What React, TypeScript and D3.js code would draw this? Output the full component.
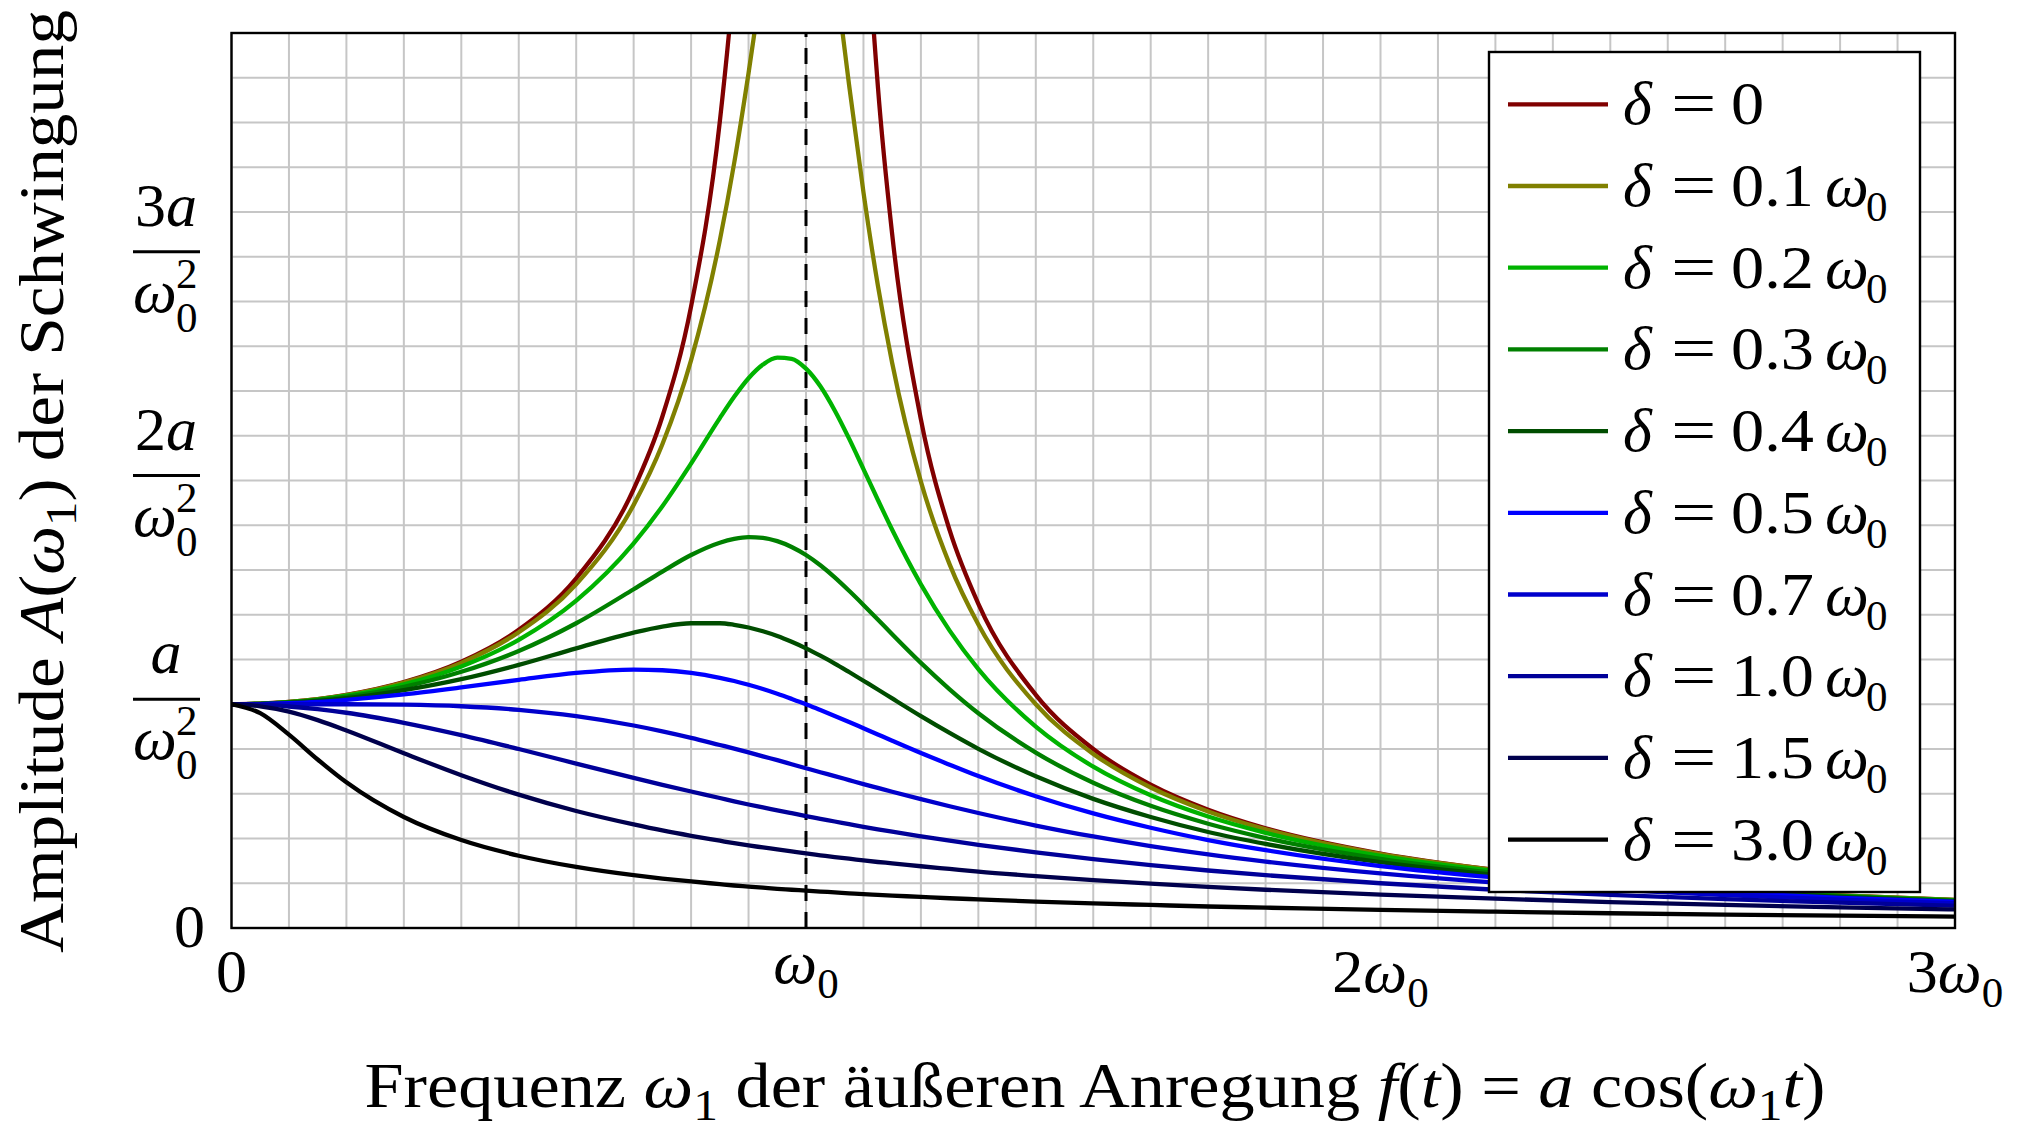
import React from 'react';
import * as d3 from 'd3';

// Frequency ω1 in units of ω0
const omega = [0, 0.05, 0.1, 0.15, 0.2, 0.3, 0.4, 0.5, 0.6, 0.7, 0.75, 0.8, 0.85, 0.875, 0.9, 0.925, 0.95, 0.975, 1.0, 1.025, 1.05, 1.075, 1.1, 1.125, 1.15, 1.2, 1.25, 1.3, 1.4, 1.5, 1.6, 1.7, 1.8, 2.0, 2.2, 2.4, 2.6, 2.8, 3.0];

// Amplitude A(ω1) in units of a/ω0²
const ampD00 = [1, 1.003, 1.010, 1.023, 1.042, 1.099, 1.190, 1.333, 1.563, 1.961, 2.286, 2.778, 3.604, 4.267, 5.263, 6.926, 10.256, 20.253, null, 19.753, 9.756, 6.426, 4.762, 3.765, 3.101, 2.273, 1.778, 1.449, 1.042, 0.800, 0.641, 0.529, 0.446, 0.333, 0.260, 0.210, 0.174, 0.146, 0.125];
const ampD01 = [1, 1.002, 1.010, 1.023, 1.041, 1.097, 1.185, 1.322, 1.536, 1.891, 2.162, 2.538, 3.073, 3.419, 3.821, 4.261, 4.683, 4.971, 5.000, 4.736, 4.279, 3.768, 3.288, 2.873, 2.525, 1.995, 1.625, 1.356, 1.000, 0.778, 0.628, 0.521, 0.441, 0.330, 0.259, 0.209, 0.173, 0.146, 0.125];
const ampD02 = [1, 1.002, 1.009, 1.021, 1.038, 1.089, 1.169, 1.288, 1.463, 1.719, 1.885, 2.076, 2.279, 2.374, 2.457, 2.518, 2.549, 2.544, 2.500, 2.421, 2.313, 2.187, 2.051, 1.914, 1.780, 1.536, 1.329, 1.157, 0.900, 0.721, 0.593, 0.498, 0.425, 0.322, 0.254, 0.206, 0.171, 0.144, 0.124];
const ampD03 = [1, 1.002, 1.008, 1.019, 1.034, 1.078, 1.145, 1.238, 1.362, 1.514, 1.593, 1.667, 1.722, 1.739, 1.747, 1.744, 1.729, 1.703, 1.667, 1.621, 1.567, 1.507, 1.444, 1.379, 1.313, 1.185, 1.067, 0.960, 0.784, 0.649, 0.546, 0.466, 0.402, 0.309, 0.246, 0.201, 0.168, 0.142, 0.122];
const ampD04 = [1, 1.002, 1.007, 1.015, 1.027, 1.063, 1.112, 1.176, 1.250, 1.320, 1.347, 1.362, 1.362, 1.355, 1.343, 1.326, 1.305, 1.279, 1.250, 1.217, 1.182, 1.144, 1.105, 1.066, 1.026, 0.947, 0.872, 0.801, 0.678, 0.577, 0.496, 0.429, 0.376, 0.294, 0.237, 0.195, 0.163, 0.139, 0.120];
const ampD05 = [1, 1.001, 1.005, 1.011, 1.020, 1.044, 1.075, 1.109, 1.140, 1.155, 1.152, 1.140, 1.118, 1.104, 1.087, 1.068, 1.047, 1.024, 1.000, 0.974, 0.948, 0.921, 0.893, 0.865, 0.837, 0.782, 0.730, 0.679, 0.589, 0.512, 0.448, 0.393, 0.348, 0.277, 0.226, 0.188, 0.158, 0.135, 0.117];
const ampD07 = [1, 1.000, 1.000, 1.000, 1.000, 0.998, 0.991, 0.975, 0.947, 0.905, 0.879, 0.850, 0.818, 0.802, 0.785, 0.767, 0.750, 0.732, 0.714, 0.696, 0.679, 0.661, 0.643, 0.626, 0.609, 0.576, 0.544, 0.514, 0.458, 0.409, 0.366, 0.329, 0.297, 0.244, 0.203, 0.172, 0.147, 0.127, 0.111];
const ampD10 = [1, 0.998, 0.990, 0.978, 0.962, 0.917, 0.862, 0.800, 0.735, 0.671, 0.640, 0.610, 0.581, 0.566, 0.552, 0.539, 0.526, 0.513, 0.500, 0.488, 0.476, 0.464, 0.452, 0.441, 0.431, 0.410, 0.390, 0.372, 0.338, 0.308, 0.281, 0.257, 0.236, 0.200, 0.171, 0.148, 0.129, 0.113, 0.100];
const ampD15 = [1, 0.991, 0.967, 0.929, 0.883, 0.781, 0.683, 0.596, 0.523, 0.463, 0.436, 0.412, 0.390, 0.379, 0.369, 0.360, 0.351, 0.342, 0.333, 0.325, 0.317, 0.310, 0.302, 0.295, 0.289, 0.276, 0.264, 0.252, 0.232, 0.214, 0.198, 0.184, 0.171, 0.149, 0.131, 0.116, 0.103, 0.092, 0.083];
const ampD30 = [1, 0.960, 0.864, 0.753, 0.651, 0.496, 0.393, 0.323, 0.273, 0.236, 0.221, 0.208, 0.196, 0.190, 0.185, 0.180, 0.175, 0.171, 0.167, 0.163, 0.159, 0.155, 0.151, 0.148, 0.145, 0.139, 0.133, 0.128, 0.118, 0.110, 0.103, 0.096, 0.091, 0.081, 0.073, 0.066, 0.060, 0.055, 0.051];

const seriesValues = [ampD00, ampD01, ampD02, ampD03, ampD04, ampD05, ampD07, ampD10, ampD15, ampD30];
const deltaLabels = ['0', '0.1', '0.2', '0.3', '0.4', '0.5', '0.7', '1.0', '1.5', '3.0'];
const seriesColors = ['#800000', '#808000', '#00b300', '#008000', '#004d00', '#0000ff', '#0000cc', '#000099', '#00004d', '#000000'];

// Ticks
const xTickValues = [0, 1, 2, 3];
const xTickFactors = ['0', '', '2', '3'];
const yTickValues = [0, 1, 2, 3];
const yTickNumerators = ['0', 'a', '2a', '3a'];
const xGridStep = 0.1;
const yGridStep = 0.2;

const FONT = "'Liberation Serif', 'Times New Roman', serif";

export default function App() {
  const W = 2020;
  const H = 1131;
  const left = 231.5, right = 1955, top = 33, bottom = 928;
  const x = d3.scaleLinear().domain([0, 3]).range([left, right]);
  const y = d3.scaleLinear().domain([0, 4]).range([bottom, top]);

  const xGrid = d3.range(0, 3 + 1e-9, xGridStep);
  const yGrid = d3.range(0, 4 + 1e-9, yGridStep);

  const lineGen = d3
    .line<[number, number | null]>()
    .defined((d) => d[1] != null)
    .x((d) => x(d[0]))
    .y((d) => y(d[1] as number))
    .curve(d3.curveMonotoneX);

  const legendLeft = 1489, legendTop = 52, legendRight = 1920, legendBottom = 892;
  const rowY0 = 104.3, rowStep = 81.7;
  const curveWidth = 4.3;

  return (
    <div style={{ position: 'absolute', left: 0, top: 0 }}>
      <svg width={W} height={H} viewBox={`0 0 ${W} ${H}`} style={{ display: 'block', background: '#fff' }} fontFamily={FONT}>
        <defs>
          <clipPath id="plotClip">
            <rect x={left} y={top} width={right - left} height={bottom - top} />
          </clipPath>
        </defs>
        <rect x={0} y={0} width={W} height={H} fill="#fff" />

        {/* grid */}
        <g stroke="#c6c6c6" strokeWidth={2}>
          {xGrid.map((v, i) => (
            <line key={'gx' + i} x1={x(v)} x2={x(v)} y1={top} y2={bottom} />
          ))}
          {yGrid.map((v, i) => (
            <line key={'gy' + i} x1={left} x2={right} y1={y(v)} y2={y(v)} />
          ))}
        </g>

        {/* resonance marker */}
        <line x1={x(1)} x2={x(1)} y1={bottom} y2={top} stroke="#000" strokeWidth={3} strokeDasharray="16 11" />

        {/* curves */}
        <g clipPath="url(#plotClip)" fill="none" strokeWidth={curveWidth} strokeLinejoin="round">
          {seriesValues.map((vals, si) => (
            <path
              key={'s' + si}
              d={lineGen(omega.map((w, i) => [w, vals[i]] as [number, number | null])) || ''}
              stroke={seriesColors[si]}
            />
          ))}
        </g>

        {/* frame */}
        <rect x={left} y={top} width={right - left} height={bottom - top} fill="none" stroke="#000" strokeWidth={2.4} />

        {/* x tick labels */}
        {xTickValues.map((v, i) => {
          const lbl = xTickFactors[i];
          if (v === 0) {
            return (
              <text key={'xt' + i} x={x(v)} y={992} textAnchor="middle" fontSize={62}>
                {lbl}
              </text>
            );
          }
          return (
            <text key={'xt' + i} x={x(v)} y={lbl === '' ? 983 : 992} textAnchor="middle" fontSize={62}>
              {lbl !== '' && <tspan>{lbl}</tspan>}
              <tspan fontStyle="italic">ω</tspan>
              <tspan fontSize={43} dy={15}>0</tspan>
            </text>
          );
        })}

        {/* y tick labels */}
        {yTickValues.map((v, i) => {
          const yy = y(v);
          if (v === 0) {
            return (
              <text key={'yt' + i} x={205} y={yy + 19} textAnchor="end" fontSize={62}>
                {yTickNumerators[i]}
              </text>
            );
          }
          const num = yTickNumerators[i];
          const coeff = num.length > 1 ? num.slice(0, -1) : '';
          const bar = yy - 5;
          return (
            <g key={'yt' + i}>
              <text x={166} y={bar - 26} textAnchor="middle" fontSize={62}>
                {coeff && <tspan>{coeff}</tspan>}
                <tspan fontStyle="italic">a</tspan>
              </text>
              <line x1={133} x2={200} y1={bar} y2={bar} stroke="#000" strokeWidth={3} />
              <text x={133} y={bar + 60} fontSize={62} fontStyle="italic">ω</text>
              <text x={176} y={bar + 36} fontSize={43}>2</text>
              <text x={176} y={bar + 80} fontSize={43}>0</text>
            </g>
          );
        })}

        {/* axis titles */}
        <text x={1095} y={1107} textAnchor="middle" fontSize={64} textLength={1461} lengthAdjust="spacingAndGlyphs">
          <tspan>Frequenz </tspan>
          <tspan fontStyle="italic">ω</tspan>
          <tspan fontSize={45} dy={13}>1</tspan>
          <tspan dy={-13}> der äußeren Anregung </tspan>
          <tspan fontStyle="italic">f</tspan>
          <tspan>(</tspan>
          <tspan fontStyle="italic">t</tspan>
          <tspan>) = </tspan>
          <tspan fontStyle="italic">a</tspan>
          <tspan> cos(</tspan>
          <tspan fontStyle="italic">ω</tspan>
          <tspan fontSize={45} dy={13}>1</tspan>
          <tspan dy={-13} fontStyle="italic">t</tspan>
          <tspan>)</tspan>
        </text>
        <text
          transform={`translate(63, ${(top + bottom) / 2 + 1}) rotate(-90)`}
          x={0}
          y={0}
          textAnchor="middle"
          fontSize={64}
          textLength={943}
          lengthAdjust="spacingAndGlyphs"
        >
          <tspan>Amplitude </tspan>
          <tspan fontStyle="italic">A</tspan>
          <tspan>(</tspan>
          <tspan fontStyle="italic">ω</tspan>
          <tspan fontSize={45} dy={13}>1</tspan>
          <tspan dy={-13}>) der Schwingung</tspan>
        </text>

        {/* legend */}
        <rect
          x={legendLeft}
          y={legendTop}
          width={legendRight - legendLeft}
          height={legendBottom - legendTop}
          fill="#fff"
          stroke="#000"
          strokeWidth={2.4}
        />
        {deltaLabels.map((lbl, i) => {
          const ly = rowY0 + i * rowStep;
          return (
            <g key={'lg' + i}>
              <line x1={1508} x2={1608} y1={ly} y2={ly} stroke={seriesColors[i]} strokeWidth={curveWidth} />
              <text x={1623} y={ly + 20} fontSize={62} fontStyle="italic">δ</text>
              <text transform={`translate(1671, ${ly + 20}) scale(1.3, 1)`} fontSize={62}>=</text>
              <text transform={`translate(1731, ${ly + 20}) scale(1.07, 1)`} fontSize={62}>{lbl}</text>
              {lbl !== '0' && (
                <>
                  <text x={1825} y={ly + 20} fontSize={62} fontStyle="italic">ω</text>
                  <text x={1866} y={ly + 35} fontSize={43}>0</text>
                </>
              )}
            </g>
          );
        })}
      </svg>
    </div>
  );
}
